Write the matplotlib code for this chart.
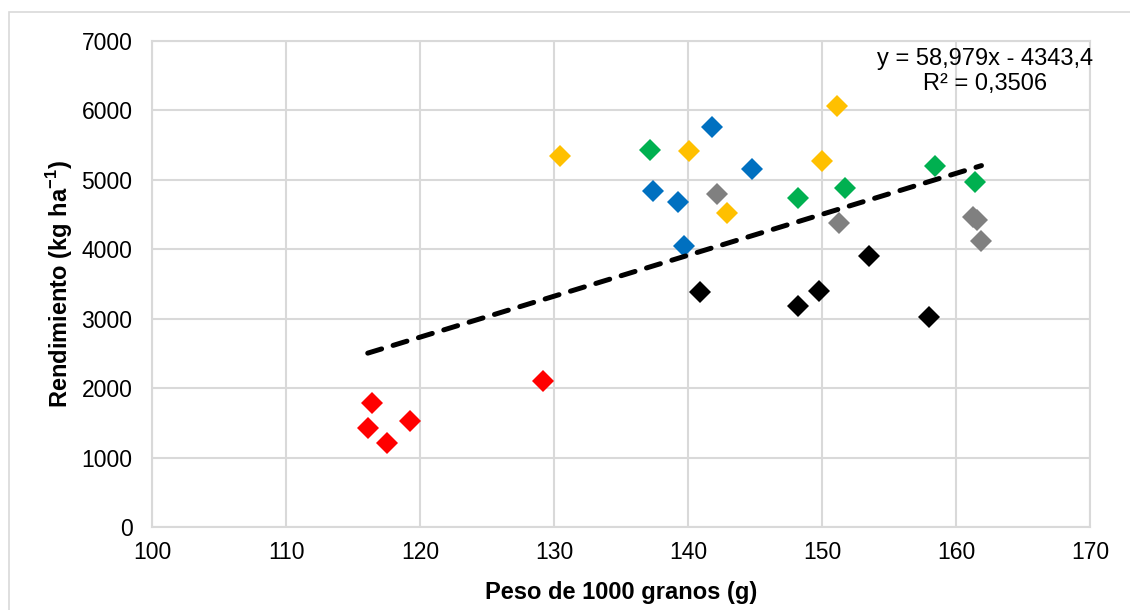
import numpy as np
import matplotlib.pyplot as plt
from matplotlib.patches import Rectangle

plt.rcParams['font.family'] = ['Liberation Sans', 'DejaVu Sans']

# peso de 1000 granos (g) y rendimiento (kg/ha) por grupo
red_x = [116.1, 116.4, 117.5, 119.25, 129.2]
red_y = [1426, 1786, 1210, 1527, 2103]
orange_x = [130.45, 140.07, 142.9, 150.0, 151.1]
orange_y = [5343, 5415, 4522, 5271, 6064]
green_x = [137.2, 148.2, 151.74, 158.4, 161.42]
green_y = [5425, 4743, 4878, 5204, 4965]
blue_x = [141.77, 144.75, 137.37, 139.23, 139.72]
blue_y = [5757, 5161, 4839, 4681, 4052]
gray_x = [142.2, 151.3, 161.3, 161.6, 161.9]
gray_y = [4801, 4383, 4470, 4420, 4123]
black_x = [140.9, 148.2, 149.75, 153.5, 158.0]
black_y = [3380, 3187, 3394, 3907, 3025]

slope, intercept = 58.979, -4343.4
r2 = 0.3506

groups = [
    (red_x, red_y, '#FF0000'),
    (orange_x, orange_y, '#FFC000'),
    (green_x, green_y, '#00B050'),
    (blue_x, blue_y, '#0070C0'),
    (gray_x, gray_y, '#808080'),
    (black_x, black_y, '#000000'),
]

fig = plt.figure(figsize=(11.3, 6.1), dpi=100)
ax = fig.add_axes([152 / 1130, 83 / 610, 938 / 1130, 486 / 610])

# outer chart border
fig.patches.append(Rectangle((9 / 1130, -0.1), 1.2, 1.1 - 12 / 610,
                             transform=fig.transFigure, fill=False,
                             edgecolor='#D9D9D9', lw=1.2))

for gx, gy, c in groups:
    ax.plot(gx, gy, linestyle='none', marker='D', markersize=11,
            color=c, markeredgewidth=0, zorder=3)

all_x = np.concatenate([g[0] for g in groups])
tx = np.array([all_x.min(), all_x.max()])
ax.plot(tx, slope * tx + intercept, color='black', lw=3.6,
        linestyle=(0, (2.9, 2.4)), dash_capstyle='round', zorder=4)

ax.text(162.2, 6560, 'y = 58,979x - 4343,4\nR² = 0,3506', ha='center',
        va='center', fontsize=17, linespacing=1.2)

ax.set_xlim(100, 170)
ax.set_ylim(0, 7000)
ax.set_xticks(range(100, 171, 10))
ax.set_yticks(range(0, 7001, 1000))
ax.grid(True, color='#D9D9D9', lw=1.5)
ax.set_axisbelow(True)
for s in ax.spines.values():
    s.set_color('#D9D9D9')
    s.set_linewidth(1.5)
ax.tick_params(length=0, labelsize=16.5)
ax.tick_params(axis='y', pad=14)
ax.tick_params(axis='x', pad=10)
ax.set_xlabel('Peso de 1000 granos (g)', fontsize=17, fontweight='bold', labelpad=12)
ax.set_ylabel('Rendimiento (kg ha$^{\\mathregular{-1}}$)', fontsize=17,
              fontweight='bold', labelpad=5)

fig.savefig('out.png', dpi=100)
